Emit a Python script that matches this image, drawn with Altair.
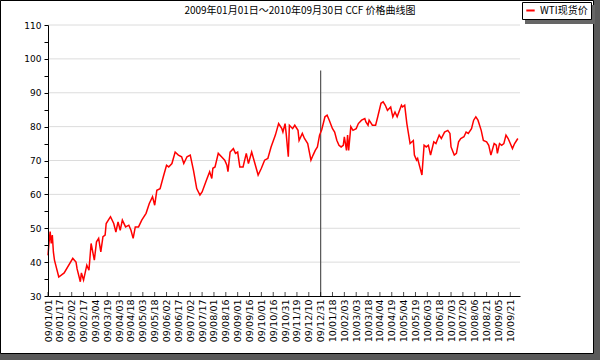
import altair as alt
import pandas as pd

title_text = "2009年01月01日～2010年09月30日 CCF 价格曲线图"
series_name = "WTI现货价"

tick_labels = ["09/01/01", "09/01/17", "09/02/02", "09/02/17", "09/03/04", "09/03/19",
               "09/04/03", "09/04/18", "09/05/03", "09/05/18", "09/06/02", "09/06/17",
               "09/07/02", "09/07/17", "09/08/01", "09/08/16", "09/09/01", "09/09/16",
               "09/10/01", "09/10/16", "09/10/31", "09/11/19", "09/12/10", "09/12/31",
               "10/01/18", "10/02/03", "10/03/03", "10/03/18", "10/04/04", "10/04/19",
               "10/05/04", "10/05/19", "10/06/03", "10/06/18", "10/07/03", "10/07/20",
               "10/08/06", "10/08/21", "10/09/05", "10/09/21"]
days_per_tick = 11
last_day = 438

# trading-day index of each sampled point
day_index = [0, 1, 2, 3, 4, 5, 6, 10, 15, 23, 26, 27, 30, 31, 33, 36, 38, 40, 43, 45,
             47, 49, 51, 53, 54, 57, 58, 61, 63, 65, 67, 69, 72, 75, 77, 79, 81, 84, 87, 91,
             94, 97, 99, 101, 104, 107, 110, 112, 115, 118, 121, 124, 126, 129, 132, 135, 138, 141, 143, 147,
             150, 152, 153, 155, 158, 161, 164, 166, 167, 169, 172, 174, 176, 178, 181, 184, 186, 189, 192, 195,
             198, 201, 204, 207, 211, 214, 217, 218, 220, 221, 223, 224, 227, 229, 232, 233, 236, 238, 241, 244,
             246, 248, 250, 252, 254, 257, 259, 261, 264, 266, 268, 270, 272, 274, 275, 277, 278, 279, 281, 283,
             286, 288, 291, 294, 295, 297, 298, 301, 304, 306, 309, 311, 313, 315, 318, 320, 322, 324, 328, 329,
             331, 333, 335, 336, 339, 340, 342, 343, 345, 347, 349, 351, 353, 355, 358, 360, 363, 365, 368, 371,
             373, 374, 377, 379, 381, 383, 386, 388, 390, 393, 395, 397, 399, 402, 404, 407, 409, 411, 414, 416,
             417, 419, 421, 423, 425, 427, 429, 431, 433, 436]
price = [42.0, 46.0, 49.0, 45.5, 48.0, 43.0, 40.6, 35.6, 36.8, 41.1, 40.0, 38.0, 34.2, 36.8, 34.7, 39.1, 37.6, 45.5, 40.6, 46.0,
         47.0, 43.0, 47.5, 48.0, 51.4, 52.9, 53.4, 51.4, 48.9, 51.9, 49.4, 52.4, 50.4, 50.9, 49.4, 47.0, 50.4, 50.4, 52.4, 54.4,
         57.3, 59.3, 56.8, 61.2, 61.7, 65.2, 68.6, 68.1, 69.1, 72.5, 71.6, 71.1, 69.1, 71.1, 71.6, 67.1, 61.7, 59.8, 60.7, 64.2,
         66.7, 64.7, 67.7, 68.1, 72.1, 71.1, 70.1, 68.6, 66.7, 72.5, 73.5, 72.1, 72.5, 68.1, 68.1, 72.1, 69.1, 72.5, 69.1, 65.7,
         67.7, 70.1, 70.6, 74.0, 77.5, 80.9, 79.4, 78.4, 80.9, 78.0, 71.1, 80.4, 79.4, 80.4, 78.9, 75.9, 78.0, 76.5, 75.0, 70.1,
         71.6, 73.0, 74.0, 77.5, 79.1, 82.9, 83.4, 81.9, 79.4, 78.4, 76.0, 74.5, 74.0, 74.5, 77.0, 73.0, 77.5, 73.0, 80.0, 78.9,
         79.4, 80.9, 81.9, 82.4, 81.4, 80.4, 81.9, 80.4, 80.4, 82.9, 86.9, 87.3, 86.3, 84.8, 85.8, 82.9, 84.3, 82.9, 86.3, 85.8,
         86.3, 80.9, 77.0, 75.0, 75.9, 71.6, 70.1, 70.6, 68.1, 65.7, 74.5, 74.0, 74.5, 71.6, 75.5, 75.0, 77.5, 76.5, 78.4, 78.9,
         78.0, 74.0, 71.6, 72.1, 75.5, 76.5, 77.0, 78.4, 78.0, 79.4, 81.9, 82.9, 81.9, 78.9, 75.9, 75.5, 74.5, 71.6, 75.0, 74.5,
         72.1, 75.0, 74.5, 75.0, 77.5, 76.5, 75.0, 73.5, 75.0, 76.5]
assert len(day_index) == len(price)

grid_values = [40, 50, 60, 70, 80, 90, 100, 110]
y_tick_values = list(range(30, 111, 5))
divider_day = 253      # 09/12/31 year boundary
divider_top = 96.6

CJK = "Noto Sans CJK SC"

df = pd.DataFrame({"day": day_index, "price": price, "series": series_name})
ticks_df = pd.DataFrame({"day": [i * days_per_tick for i in range(len(tick_labels))]})
grid_df = pd.DataFrame({"price": grid_values})
one = pd.DataFrame({"a": [0]})

label_expr = "[" + ",".join("'%s'" % t for t in tick_labels) + "][round(datum.value/%d)]" % days_per_tick

xscale = alt.Scale(domain=[0, last_day], nice=False, zero=False)
yscale = alt.Scale(domain=[30, 110], nice=False, zero=False)

x_axis = alt.Axis(values=[i * days_per_tick for i in range(len(tick_labels))], tickCount=200,
                  labelExpr=label_expr, labelAngle=270, ticks=False,
                  labelOverlap=False, labelFlush=False, labelBound=False,
                  labelFont="DejaVu Sans", labelFontSize=9.5, labelColor="black",
                  labelPadding=3, domainColor="black", grid=False, title=None, zindex=1)
y_axis = alt.Axis(values=y_tick_values, tickCount=200, format="d",
                  labelExpr="datum.value % 10 === 0 ? datum.label : ''",
                  labelOverlap=False,
                  tickSize=4, tickColor="black", domainColor="black",
                  labelFont="DejaVu Sans", labelFontSize=9, labelColor="black",
                  labelPadding=3, grid=False, title=None, zindex=1)

W, H = 472, 271

frame = alt.Chart(one).mark_rect(fill="white", stroke="black", strokeWidth=1).encode(
    x=alt.value(-47.5), x2=alt.value(545.5), y=alt.value(-24.5), y2=alt.value(328.5)
)

legend_shadow = alt.Chart(one).mark_rect(fill="#666666").encode(
    x=alt.value(477), x2=alt.value(547), y=alt.value(-20), y2=alt.value(-1)
)

grid = alt.Chart(grid_df).mark_rule(color="#dcdcdc", strokeWidth=1).encode(
    y=alt.Y("price:Q", scale=yscale, axis=y_axis), x=alt.value(0), x2=alt.value(W)
)

line = alt.Chart(df).mark_line(strokeWidth=1.5).encode(
    x=alt.X("day:Q", scale=xscale, axis=x_axis),
    y=alt.Y("price:Q", scale=yscale, axis=y_axis),
    color=alt.Color("series:N",
                    scale=alt.Scale(domain=[series_name], range=["#ff0000"]),
                    legend=alt.Legend(title=None, orient="none", legendX=474, legendY=-23,
                                      fillColor="white", strokeColor="black", padding=3,
                                      symbolType="stroke", symbolStrokeWidth=2, symbolSize=70,
                                      labelFont=CJK, labelFontSize=10, labelColor="black",
                                      cornerRadius=0)),
)

x_ticks = alt.Chart(ticks_df).mark_tick(orient="vertical", size=4, yOffset=-2,
                                         color="black", thickness=1).encode(
    x=alt.X("day:Q", scale=xscale, axis=x_axis), y=alt.datum(30)
)

divider = alt.Chart(one).mark_rule(color="#555555", strokeWidth=1.2).encode(
    x=alt.datum(divider_day), y=alt.datum(divider_top), y2=alt.datum(30)
)

chart = alt.layer(frame, legend_shadow, grid, divider, x_ticks, line).properties(
    width=W, height=H,
    title=alt.Title(title_text, font=CJK, fontSize=10, fontWeight="normal",
                    anchor="middle", dx=16, dy=22, offset=6, color="black"),
    autosize=alt.AutoSizeParams(type="none"),
    padding={"left": 48, "top": 25, "right": 80, "bottom": 64},
    background="#5a5a5a",
).configure_view(stroke=None)

chart.save("out.html", embed_options={"renderer": "svg", "actions": False})
